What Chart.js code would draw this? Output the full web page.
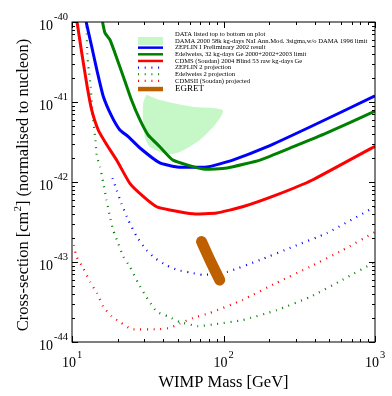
<!DOCTYPE html>
<html>
<head>
<meta charset="utf-8">
<script src="https://cdn.jsdelivr.net/npm/chart.js@4.4.1/dist/chart.umd.min.js"></script>
<style>
  html, body { margin: 0; padding: 0; background: #fff; }
</style>
</head>
<body>
<canvas id="chart" width="392" height="396"></canvas>
<script>
// WIMP mass in GeV, cross-section in cm^2
const damaMass  = [31.0, 38.0, 62.7, 98.9, 90.1, 69.7, 51.4, 42.3, 32.7, 30.3, 29.5, 29.5, 31.0];
const damaSigma = [1.23e-41, 1.06e-41, 8.7e-42, 7.9e-42, 5.5e-42, 3.35e-42, 2.37e-42, 2.24e-42, 2.74e-42, 3.65e-42, 5.96e-42, 9.7e-42, 1.23e-41];

const zeplinMass  = [12.4, 13.5, 14.6, 16.1, 18.3, 20.7, 23.5, 28.1, 38.0, 49.4, 77.8, 115, 193, 372, 1000];
const zeplinSigma = [1e-40, 4.9e-41, 2.5e-41, 1.17e-41, 6.6e-42, 4.47e-42, 3.7e-42, 2.66e-42, 1.73e-42, 1.54e-42, 1.54e-42, 1.88e-42, 2.74e-42, 4.87e-42, 1.19e-41];

const edelMass  = [15.9, 16.5, 17.8, 19.2, 21.8, 24.7, 28.1, 31.8, 38.0, 46.4, 73.3, 105.4, 174, 287, 481, 1000];
const edelSigma = [1e-40, 7.3e-41, 6e-41, 4.1e-41, 2.09e-41, 1.06e-41, 5.96e-42, 3.87e-42, 2.76e-42, 1.88e-42, 1.45e-42, 1.5e-42, 1.88e-42, 2.74e-42, 4.1e-42, 7.7e-42];

const cdmsMass  = [10.8, 11.6, 12.6, 13.5, 14.9, 17.0, 19.7, 24.1, 29.5, 36.2, 44.2, 62.7, 90.1, 133.6, 224, 386, 1000];
const cdmsSigma = [1e-40, 4.1e-41, 1.55e-41, 7.9e-42, 4.47e-42, 2.9e-42, 1.88e-42, 9.6e-43, 6.6e-43, 4.9e-43, 4.47e-43, 4e-43, 4.1e-43, 4.9e-43, 6.9e-43, 1.06e-42, 2.8e-42];

const zep2Mass  = [18.5, 19.7, 21.2, 23.5, 26.7, 31.0, 35.2, 42.1, 50.1, 59.8, 73.3, 105.4, 174, 287, 481, 1000];
const zep2Sigma = [1.12e-42, 7.9e-43, 5.4e-43, 3.35e-43, 2.09e-43, 1.41e-43, 1.12e-43, 9.1e-44, 7.9e-44, 7.4e-44, 6.9e-44, 7.5e-44, 1.06e-43, 1.55e-43, 2.3e-43, 4.9e-43];

const edel2Mass  = [12.5, 12.6, 12.9, 13.3, 13.5, 13.8, 14.2, 14.6, 15.3, 16.1, 16.9, 17.8, 18.7, 20.2, 21.8, 24.1, 27.4, 30.3, 36.2, 43.1, 51.4, 67.9, 90.1, 133.6, 224, 372, 612, 1000];
const edel2Sigma = [8.7e-41, 4.1e-41, 2.5e-41, 1.55e-41, 9.7e-42, 5.96e-42, 3.7e-42, 2.09e-42, 1.55e-42, 9.6e-43, 5.96e-43, 3.7e-43, 2.5e-43, 1.7e-43, 1.17e-43, 8.7e-44, 5.4e-44, 3.9e-44, 2.4e-44, 2.09e-44, 1.78e-44, 1.58e-44, 1.68e-44, 1.88e-44, 2.5e-44, 3.65e-44, 6e-44, 1.0e-43];

const cdms2Mass  = [10.3, 10.7, 11.9, 13.2, 14.6, 16.1, 18.3, 20.7, 24.7, 38.0, 44.3, 51.4, 63, 81, 133.6, 224, 372, 612, 1000];
const cdms2Sigma = [1.63e-43, 1.17e-43, 8.3e-44, 5.6e-44, 4.1e-44, 2.75e-44, 2.09e-44, 1.78e-44, 1.45e-44, 1.45e-44, 1.5e-44, 1.7e-44, 2e-44, 2.3e-44, 3.35e-44, 5.5e-44, 8.7e-44, 1.41e-43, 2.37e-43];

const egretMass  = [71.6, 81.3, 94.4];
const egretSigma = [1.8e-43, 1.06e-43, 5.96e-44];

const xTicks = [10, 100, 1000];
const yTicks = [1e-44, 1e-43, 1e-42, 1e-41, 1e-40];

function pts(xs, ys) {
  return xs.map((x, i) => ({ x: x, y: ys[i] }));
}

const serif = '"Liberation Serif", "Times New Roman", serif';

const framePlugin = {
  id: 'frame',
  afterDraw(chart) {
    const c = chart.ctx;
    const a = chart.chartArea;
    const xs = chart.scales.x, ys = chart.scales.y;
    c.save();
    c.strokeStyle = '#000';
    c.lineWidth = 1;
    c.strokeRect(a.left, a.top, a.right - a.left, a.bottom - a.top);

    // inside ticks on all four sides
    c.beginPath();
    for (let d = 10; d < 1000; d *= 10) {
      for (let k = 1; k <= 10; k++) {
        const px = Math.round(xs.getPixelForValue(k * d)) + 0.5;
        const len = (k === 1 || k === 10) ? 6 : 3;
        c.moveTo(px, a.bottom); c.lineTo(px, a.bottom - len);
        c.moveTo(px, a.top); c.lineTo(px, a.top + len);
      }
    }
    for (let d = 1e-44; d < 1e-40 * 0.99; d *= 10) {
      for (let k = 1; k <= 10; k++) {
        const py = Math.round(ys.getPixelForValue(k * d)) + 0.5;
        const len = (k === 1 || k === 10) ? 6 : 3;
        c.moveTo(a.left, py); c.lineTo(a.left + len, py);
        c.moveTo(a.right, py); c.lineTo(a.right - len, py);
      }
    }
    c.stroke();

    // tick labels as 10^n
    c.fillStyle = '#000';
    c.textBaseline = 'alphabetic';
    const base = '14px ' + serif, sup = '10.5px ' + serif;
    xTicks.forEach(v => {
      const e = String(Math.round(Math.log10(v)));
      c.font = base; const w1 = c.measureText('10').width;
      c.font = sup; const w2 = c.measureText(e).width;
      const x0 = xs.getPixelForValue(v) - (w1 + w2 + 1) / 2;
      c.font = base; c.textAlign = 'left'; c.fillText('10', x0, 367);
      c.font = sup; c.fillText(e, x0 + w1 + 1, 358);
    });
    yTicks.forEach(v => {
      const e = String(Math.round(Math.log10(v)));
      const py = ys.getPixelForValue(v);
      c.font = sup; const w2 = c.measureText(e).width;
      c.font = base; const w1 = c.measureText('10').width;
      const x0 = 68 - w2 - w1 - 1;
      c.textAlign = 'left';
      c.fillText('10', x0, py + 7.5);
      c.font = sup; c.fillText(e, x0 + w1 + 1, py - 2);
    });

    // axis titles
    c.font = '16.5px ' + serif;
    c.textAlign = 'center';
    c.fillText('WIMP Mass [GeV]', (a.left + a.right) / 2, 387);

    c.save();
    c.translate(28, 185);
    c.rotate(-Math.PI / 2);
    const p1 = 'Cross-section [cm', p2 = '2', p3 = '] (normalised to nucleon)';
    c.font = '16.5px ' + serif; const t1 = c.measureText(p1).width, t3 = c.measureText(p3).width;
    c.font = '11px ' + serif; const t2 = c.measureText(p2).width;
    let tx = -(t1 + t2 + t3) / 2;
    c.textAlign = 'left';
    c.font = '16.5px ' + serif; c.fillText(p1, tx, 0); tx += t1;
    c.font = '11px ' + serif; c.fillText(p2, tx, -7); tx += t2;
    c.font = '16.5px ' + serif; c.fillText(p3, tx, 0);
    c.restore();

    // legend
    c.textAlign = 'left';
    c.textBaseline = 'middle';
    c.font = '6.6px ' + serif;
    c.fillText('DATA listed top to bottom on plot', 175, 34.5);
    chart.data.datasets.forEach((ds, i) => {
      const y = 41 + i * 6.65 + (ds.label === 'EGRET' ? 1.5 : 0);
      if (ds.fill) {
        c.fillStyle = ds.backgroundColor;
        c.fillRect(138, y - 4, 25, 8);
      } else {
        c.strokeStyle = ds.borderColor;
        c.lineWidth = ds.label === 'EGRET' ? 4.5 : Math.min(ds.borderWidth, 2.5);
        c.setLineDash(ds.borderDash || []);
        c.lineCap = 'butt';
        c.beginPath(); c.moveTo(138, y); c.lineTo(163, y); c.stroke();
        c.setLineDash([]);
      }
      c.fillStyle = '#000';
      c.font = (ds.label === 'EGRET' ? '9px ' : '6.6px ') + serif;
      c.fillText(ds.label, 175, y);
    });
    c.restore();
  }
};

const dotted = [1, 5.7];

new Chart(document.getElementById('chart').getContext('2d'), {
  type: 'line',
  data: {
    datasets: [
      { label: 'DAMA 2000 58k kg-days NaI Ann.Mod. 3sigma,w/o DAMA 1996 limit', data: pts(damaMass, damaSigma),
        fill: 'shape', backgroundColor: '#c6f7c6', borderColor: '#c6f7c6', borderWidth: 0, tension: 0.25, order: 10 },
      { label: 'ZEPLIN I Preliminary 2002 result', data: pts(zeplinMass, zeplinSigma),
        borderColor: '#0000ff', borderWidth: 3, order: 3 },
      { label: 'Edelweiss, 32 kg-days Ge 2000+2002+2003 limit', data: pts(edelMass, edelSigma),
        borderColor: '#008000', borderWidth: 3, order: 2 },
      { label: 'CDMS (Soudan) 2004 Blind 53 raw kg-days Ge', data: pts(cdmsMass, cdmsSigma),
        borderColor: '#ff0000', borderWidth: 3, order: 4 },
      { label: 'ZEPLIN 2 projection', data: pts(zep2Mass, zep2Sigma),
        borderColor: '#0000ff', borderWidth: 2.2, borderDash: dotted, order: 5 },
      { label: 'Edelweiss 2 projection', data: pts(edel2Mass, edel2Sigma),
        borderColor: '#008000', borderWidth: 2.2, borderDash: dotted, order: 6 },
      { label: 'CDMSII (Soudan) projected', data: pts(cdms2Mass, cdms2Sigma),
        borderColor: '#ff0000', borderWidth: 2.2, borderDash: dotted, order: 7 },
      { label: 'EGRET', data: pts(egretMass, egretSigma),
        borderColor: '#bf6000', borderWidth: 11, borderCapStyle: 'round', order: 0 }
    ]
  },
  options: {
    responsive: false,
    animation: false,
    devicePixelRatio: 1,
    layout: { padding: { left: 72, top: 22, right: 17, bottom: 54 } },
    elements: { point: { radius: 0 }, line: { tension: 0.15 } },
    scales: {
      x: { type: 'logarithmic', min: 10, max: 1000, display: false },
      y: { type: 'logarithmic', min: 1e-44, max: 1e-40, display: false }
    },
    plugins: { legend: { display: false }, tooltip: { enabled: false } }
  },
  plugins: [framePlugin]
});
</script>
</body>
</html>
